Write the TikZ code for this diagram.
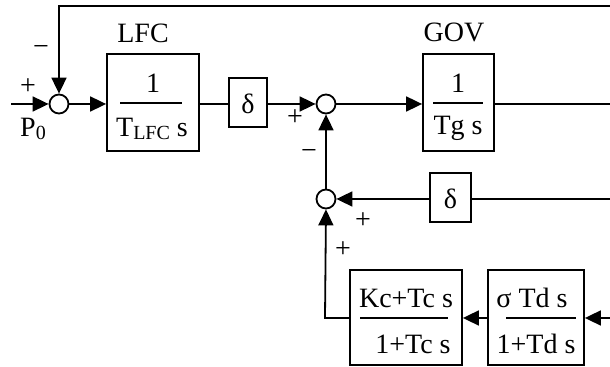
\documentclass[tikz,border=0pt]{standalone}
\usepackage{fontspec}
\setmainfont{Liberation Serif}
\usetikzlibrary{arrows.meta}
\tikzset{
  blk/.style={draw, line width=0.9pt, rectangle, inner sep=0pt},
  sumc/.style={draw, line width=0.9pt, circle, minimum size=9.5pt, inner sep=0pt},
  arr/.style={-{Triangle[length=8pt,width=7.5pt]}},
  wire/.style={line width=0.9pt},
  lbl/.style={inner sep=0pt, font=\fontsize{14}{16}\selectfont},
  rule/.style={line width=0.9pt}
}
\newcommand{\subtxt}[1]{\raisebox{-0.3ex}{\fontsize{10}{11}\selectfont #1}}
\begin{document}
\begin{tikzpicture}[x=0.5pt,y=-0.5pt]
\useasboundingbox (0,0) rectangle (610,367);
% nodes
\node[sumc] (s1) at (59,104) {};
\node[blk, minimum width=46pt, minimum height=48.5pt] (lfc) at (153,102.5) {};
\node[blk, minimum width=19pt, minimum height=24.5pt] (d1) at (248,102.5) {};
\node[sumc] (s2) at (326,104) {};
\node[blk, minimum width=35.5pt, minimum height=48.5pt] (gov) at (458.5,102.5) {};
\node[blk, minimum width=20.5pt, minimum height=24.5pt] (d2) at (450.5,197.5) {};
\node[sumc] (s3) at (326,199) {};
\node[blk, minimum width=56pt, minimum height=47.5pt] (kc) at (406,317.5) {};
\node[blk, minimum width=48pt, minimum height=47.5pt] (sig) at (536,317.5) {};
% free ends
\coordinate (in) at (11,104);
\coordinate (tl) at (59,6);
\coordinate (tr) at (610,6);
\coordinate (r1) at (610,104);
\coordinate (r2) at (610,199);
\coordinate (r3) at (610,318);
\coordinate (bl) at (325,318);
% texts
\node[lbl] (tlfc) at (143,33) {LFC};
\node[lbl] (tgov) at (454,32) {GOV};
\node[lbl] (n1) at (153,83) {1};
\draw[rule] (120,103) -- (182,103);
\node[lbl] (den1) at (152,129) {T\subtxt{LFC} s};
\node[lbl] (n2) at (458,83) {1};
\draw[rule] (433,103) -- (483,103);
\node[lbl] (den2) at (458,128) {Tg s};
\node[lbl] (dl1) at (248,104) {δ};
\node[lbl] (dl2) at (450.5,199) {δ};
\node[lbl] (n3) at (406,298) {Kc+Tc s};
\draw[rule] (360,318) -- (448,318);
\node[lbl] (den3) at (413,344) {1+Tc s};
\node[lbl] (n4) at (532,298) {σ Td s};
\draw[rule] (506,318) -- (576,318);
\node[lbl] (den4) at (536,344) {1+Td s};
% signs
\node[lbl] (p1) at (28,87) {+};
\node[lbl] (m1) at (41,51) {−};
\node[lbl] (p0) at (33,129) {P\subtxt{0}};
\node[lbl] (p2) at (295,118) {+};
\node[lbl] (m2) at (309,155) {−};
\node[lbl] (p3) at (363,221) {+};
\node[lbl] (p4) at (343,250) {+};
% connectors
\draw[wire,arr] (in) -- (s1.west);
\draw[wire,arr] (tr) -- (tl) -- (s1.north);
\draw[wire,arr] (s1.east) -- (s1.east -| lfc.west);
\draw[wire] (lfc.east |- s1) -- (d1.west |- s1);
\draw[wire,arr] (d1.east |- s2) -- (s2.west);
\draw[wire,arr] (s2.east) -- (s2.east -| gov.west);
\draw[wire] (gov.east |- s2) -- (r1);
\draw[wire,arr] (s3.north) -- (s2.south);
\draw[wire] (r2) -- (d2.east |- r2);
\draw[wire,arr] (d2.west |- s3) -- (s3.east);
\draw[wire,arr] (r3) -- (sig.east |- r3);
\draw[wire,arr] (sig.west |- r3) -- (kc.east |- r3);
\draw[wire,arr] (kc.west |- r3) -- (bl) -- (s3.south);
\end{tikzpicture}
\end{document}
